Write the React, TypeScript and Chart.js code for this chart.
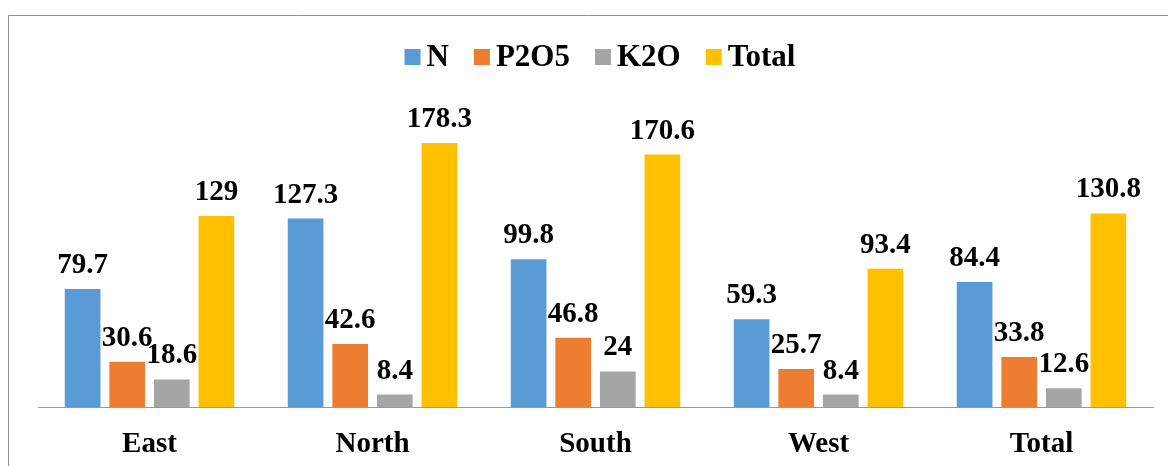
import React, { useEffect, useRef } from "react";
import { Chart, registerables } from "chart.js";

Chart.register(...registerables);

const categories = ["East", "North", "South", "West", "Total"];
const seriesNames = ["N", "P2O5", "K2O", "Total"];
const nValues = [79.7, 127.3, 99.8, 59.3, 84.4];
const p2o5Values = [30.6, 42.6, 46.8, 25.7, 33.8];
const k2oValues = [18.6, 8.4, 24, 8.4, 12.6];
const totalValues = [129, 178.3, 170.6, 93.4, 130.8];
const colors = ["#5B9BD5", "#ED7D31", "#A5A5A5", "#FFC000"];

const FONT = '"Liberation Serif", "Times New Roman", serif';

const framePlugin = {
  id: "frame",
  beforeDraw(chart: any) {
    const ctx = chart.ctx;
    ctx.save();
    ctx.fillStyle = "#ffffff";
    ctx.fillRect(0, 0, chart.width, chart.height);
    ctx.strokeStyle = "#8f8f8f";
    ctx.lineWidth = 1;
    ctx.beginPath();
    ctx.moveTo(8.5, chart.height + 2);
    ctx.lineTo(8.5, 15.5);
    ctx.lineTo(chart.width + 2, 15.5);
    ctx.stroke();
    ctx.restore();
  },
};

const legendPlugin = {
  id: "customLegend",
  afterDraw(chart: any) {
    const ctx = chart.ctx;
    ctx.save();
    ctx.font = `bold 31px ${FONT}`;
    const box = 16;
    const gapText = 6;
    const gapItem = 25;
    const items = chart.data.datasets.map((d: any) => ({
      label: d.label,
      color: d.backgroundColor,
      w: ctx.measureText(d.label).width,
    }));
    let total = 0;
    items.forEach((it: any, i: number) => {
      total += box + gapText + it.w + (i < items.length - 1 ? gapItem : 0);
    });
    let x = 600 - total / 2;
    const baseline = 66;
    items.forEach((it: any) => {
      ctx.fillStyle = it.color;
      ctx.fillRect(x, 49, box, box);
      ctx.fillStyle = "#000000";
      ctx.textAlign = "left";
      ctx.textBaseline = "alphabetic";
      ctx.fillText(it.label, x + box + gapText, baseline);
      x += box + gapText + it.w + gapItem;
    });
    ctx.restore();
  },
};

const labelPlugin = {
  id: "valueLabels",
  afterDatasetsDraw(chart: any) {
    const ctx = chart.ctx;
    ctx.save();
    ctx.font = `bold 29px ${FONT}`;
    ctx.fillStyle = "#000000";
    ctx.textAlign = "center";
    ctx.textBaseline = "alphabetic";
    chart.data.datasets.forEach((ds: any, di: number) => {
      const meta = chart.getDatasetMeta(di);
      meta.data.forEach((el: any, i: number) => {
        ctx.fillText(String(ds.data[i]), el.x, el.y - 16);
      });
    });
    ctx.restore();
  },
};

export default function App() {
  const ref = useRef<HTMLCanvasElement | null>(null);
  useEffect(() => {
    if (!ref.current) return;
    const seriesData = [nValues, p2o5Values, k2oValues, totalValues];
    const chart = new Chart(ref.current, {
      type: "bar",
      data: {
        labels: categories,
        datasets: seriesNames.map((name, i) => ({
          label: name,
          data: seriesData[i],
          backgroundColor: colors[i],
          borderWidth: 0,
          categoryPercentage: 0.8,
          barPercentage: 0.8,
        })),
      },
      options: {
        responsive: false,
        animation: false,
        devicePixelRatio: 1,
        layout: { padding: { left: 38, right: 15, top: 111, bottom: 0 } },
        plugins: {
          legend: { display: false },
          tooltip: { enabled: false },
        },
        scales: {
          x: {
            afterFit: (s: any) => {
              s.height = 59;
            },
            grid: { display: false, drawTicks: false },
            border: { display: true, color: "#999999", width: 1 },
            ticks: {
              color: "#000000",
              padding: 20,
              font: { family: FONT, size: 29, weight: "bold", lineHeight: 1.2 },
            },
          },
          y: {
            display: false,
            min: 0,
            max: 200,
          },
        },
      },
      plugins: [framePlugin, legendPlugin, labelPlugin],
    });
    return () => chart.destroy();
  }, []);
  return (
    <div style={{ position: "absolute", left: 0, top: 0, width: 1168, height: 466 }}>
      <canvas ref={ref} width={1168} height={466} style={{ width: 1168, height: 466, display: "block" }} />
    </div>
  );
}
